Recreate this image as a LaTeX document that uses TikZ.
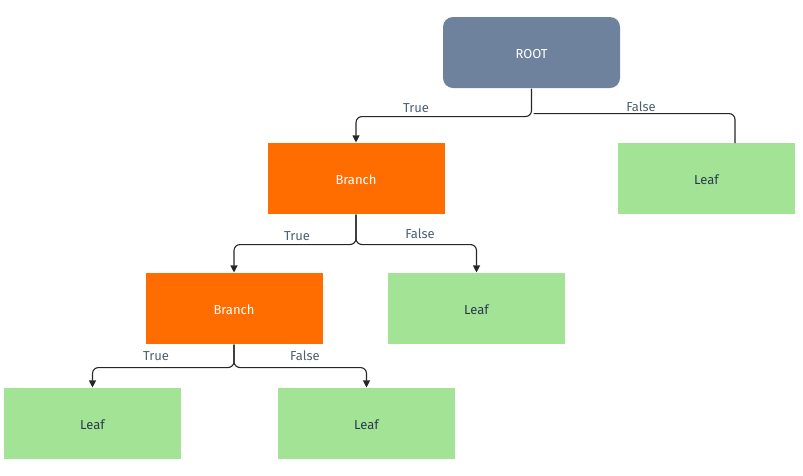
\documentclass[tikz,border=0pt]{standalone}
\usepackage{fontspec}
\setmainfont{Fira Sans}
\usetikzlibrary{arrows.meta}
\definecolor{rootblue}{HTML}{6E819D}
\definecolor{branchorange}{HTML}{FF6D00}
\definecolor{leafgreen}{HTML}{A3E396}
\definecolor{leaftext}{HTML}{2B3A4B}
\definecolor{labeltext}{HTML}{4D6070}
\tikzset{every picture/.style={line width=1.1pt}}
\tikzset{
  box/.style={minimum width=177pt,minimum height=71pt,inner sep=0pt,text height=12pt,text depth=0pt,font=\fontsize{13}{15}\selectfont},
  rootbox/.style={box,fill=rootblue,rounded corners=10pt,text=white},
  branchbox/.style={box,fill=branchorange,text=white},
  leafbox/.style={box,fill=leafgreen,text=leaftext},
  edge/.style={draw=black!85,rounded corners=6pt},
  arrow/.style={edge,-{Triangle[width=7pt,length=7pt]}},
  lbl/.style={text=labeltext,inner sep=0.75pt,font=\fontsize{13}{15}\selectfont}
}

\begin{document}
\begin{tikzpicture}[x=1pt,y=1pt,yscale=-1,xscale=1]
\useasboundingbox (0,0) rectangle (803,475);
% boxes
\node[rootbox] (root) at (531.5,52.5) {ROOT};
\node[branchbox] (branchA) at (356,178.5) {Branch};
\node[leafbox] (leafA) at (706.5,178.5) {Leaf};
\node[branchbox] (branchB) at (234,308.5) {Branch};
\node[leafbox] (leafB) at (476.5,308.5) {Leaf};
\node[leafbox] (leafC) at (92.5,423.5) {Leaf};
\node[leafbox] (leafD) at (366.5,423.5) {Leaf};
\coordinate (endA) at (735,143);
% connectors
\draw[arrow] (root.south) -- ++(0,28) -| (branchA.north);
\draw[edge] (root.south) ++(2,25) -| (endA);
\draw[arrow] (branchA.south) -- ++(0,30) -| (branchB.north);
\draw[arrow] (branchA.south) -- ++(0,30) -| (leafB.north);
\draw[arrow] (branchB.south) -- ++(0,23) -| (leafC.north);
\draw[arrow] (branchB.south) -- ++(0,23) -| (leafD.north);
% labels
\node[lbl] (tA) at (416,108) {True};
\node[lbl] (fA) at (641,107) {False};
\node[lbl] (tB) at (297,236) {True};
\node[lbl] (fB) at (420,234) {False};
\node[lbl] (tC) at (156,356) {True};
\node[lbl] (fC) at (305,356) {False};
\end{tikzpicture}
\end{document}
